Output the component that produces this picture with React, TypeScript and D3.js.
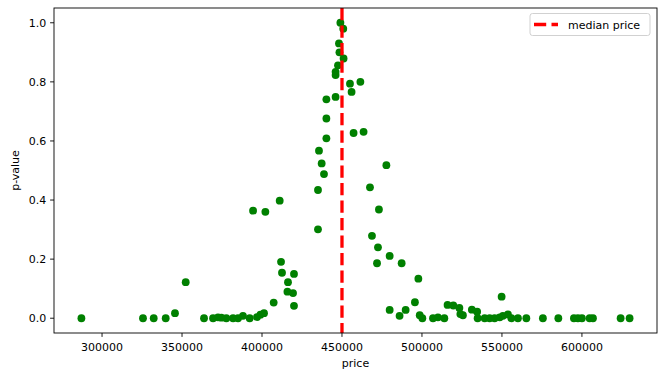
import React from "react";
import * as d3 from "d3";

const prices = [
  287100, 325600, 332300, 339800, 345600, 352300, 363750, 369400, 372500, 374600,
  377700, 381900, 385000, 388100, 392300, 394400, 396900, 399000, 401250, 402100,
  407300, 411060, 411900, 412500, 415900, 416250, 419400, 420000, 420000, 435000,
  435000, 435625, 437300, 438750, 440250, 440250, 440250, 446000, 446000, 446000,
  447500, 448125, 448400, 449000, 450800, 451000, 455000, 456000, 461500, 457250,
  463500, 467500, 468750, 471900, 472500, 473100, 477750, 479800, 479800, 486000,
  487300, 489800, 495600, 497750, 498600, 500250, 506900, 510000, 514000, 516000,
  519600, 523400, 524000, 525600, 531200, 534500, 534800, 539200, 542300, 545400,
  548600, 549800, 550600, 553750, 555900, 560000, 565250, 575600, 585250, 595000,
  597500, 600000, 604800, 606900, 624200, 629800,
];

const pValues = [
  0.0, 0.0, 0.0, 0.0, 0.017, 0.122, 0.0, 0.0, 0.003, 0.002,
  0.0, 0.0, 0.0, 0.008, 0.0, 0.364, 0.004, 0.012, 0.017, 0.36,
  0.053, 0.398, 0.191, 0.154, 0.09, 0.122, 0.085, 0.15, 0.042, 0.301,
  0.434, 0.567, 0.524, 0.488, 0.609, 0.676, 0.741, 0.749, 0.834, 0.823,
  0.856, 0.93, 0.9, 1.0, 0.98, 0.879, 0.794, 0.766, 0.8, 0.627,
  0.631, 0.443, 0.279, 0.186, 0.24, 0.368, 0.518, 0.211, 0.028, 0.008,
  0.186, 0.028, 0.054, 0.134, 0.01, 0.0, 0.0, 0.003, 0.0, 0.045,
  0.043, 0.035, 0.014, 0.01, 0.029, 0.022, 0.0, 0.0, 0.0, 0.0,
  0.003, 0.073, 0.008, 0.013, 0.0, 0.0, 0.0, 0.0, 0.0, 0.0,
  0.0, 0.0, 0.0, 0.0, 0.0, 0.0,
];

const medianPrice = 450000;
const xTicks = [300000, 350000, 400000, 450000, 500000, 550000, 600000];
const yTicks = [0.0, 0.2, 0.4, 0.6, 0.8, 1.0];
const xLabel = "price";
const yLabel = "p-value";
const legendLabel = "median price";

const W = 667;
const H = 378;
const L = 54;
const R = 657;
const T = 8;
const B = 333;
const FONT = "DejaVu Sans, sans-serif";

export default function App() {
  const xMin = d3.min(prices)!;
  const xMax = d3.max(prices)!;
  const xPad = (xMax - xMin) * 0.05;
  const yMin = d3.min(pValues)!;
  const yMax = d3.max(pValues)!;
  const yPad = (yMax - yMin) * 0.05;
  const x = d3.scaleLinear().domain([xMin - xPad, xMax + xPad]).range([L, R]);
  const y = d3.scaleLinear().domain([yMin - yPad, yMax + yPad]).range([B, T]);

  return (
    <svg
      width={W}
      height={H}
      style={{ position: "absolute", left: 0, top: 0, background: "#fff" }}
      fontFamily={FONT}
    >
      <rect x={0} y={0} width={W} height={H} fill="#fff" />
      {prices.map((p, i) => (
        <circle key={i} cx={x(p)} cy={y(pValues[i])} r={3.9} fill="#008000" />
      ))}
      <line
        x1={x(medianPrice)}
        x2={x(medianPrice)}
        y1={T}
        y2={B}
        stroke="#ff0000"
        strokeWidth={3.3}
        strokeDasharray="12.2 5.3"
      />
      {/* spines */}
      <rect x={L} y={T} width={R - L} height={B - T} fill="none" stroke="#000" strokeWidth={0.9} />
      {/* x ticks */}
      {xTicks.map((t) => (
        <g key={t}>
          <line x1={x(t)} x2={x(t)} y1={B} y2={B + 3.9} stroke="#000" strokeWidth={0.9} />
          <text x={x(t)} y={B + 17.5} fontSize={11} textAnchor="middle" fill="#000">
            {t}
          </text>
        </g>
      ))}
      {/* y ticks */}
      {yTicks.map((t) => (
        <g key={t}>
          <line x1={L - 3.9} x2={L} y1={y(t)} y2={y(t)} stroke="#000" strokeWidth={0.9} />
          <text x={L - 7.7} y={y(t) + 4} fontSize={11} textAnchor="end" fill="#000">
            {t.toFixed(1)}
          </text>
        </g>
      ))}
      <text x={(L + R) / 2} y={367} fontSize={11} textAnchor="middle" fill="#000">
        {xLabel}
      </text>
      <text
        transform={`translate(${19},${(T + B) / 2}) rotate(-90)`}
        fontSize={11}
        textAnchor="middle"
        fill="#000"
      >
        {yLabel}
      </text>
      {/* legend */}
      <rect x={530} y={13.5} width={120} height={22} rx={2.5} fill="#fff" fillOpacity={0.8} stroke="#cccccc" strokeWidth={0.9} />
      <line x1={534} x2={558} y1={24.5} y2={24.5} stroke="#ff0000" strokeWidth={3.3} strokeDasharray="12.2 5.3" />
      <text x={568} y={28.5} fontSize={11} fill="#000">
        {legendLabel}
      </text>
    </svg>
  );
}
